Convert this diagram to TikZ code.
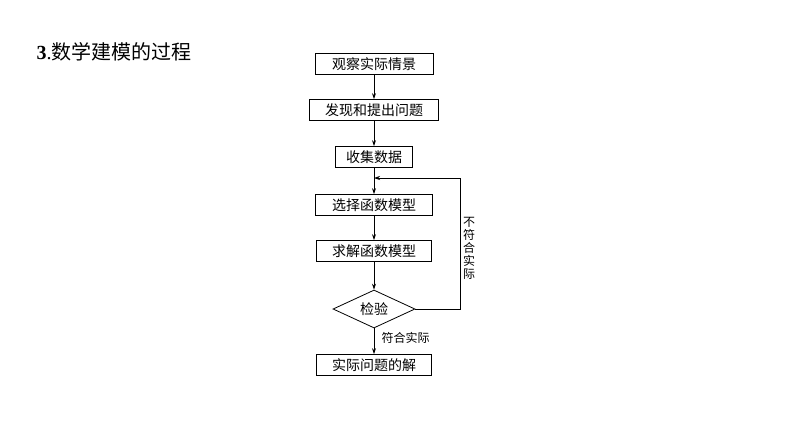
\documentclass[tikz,border=0pt]{standalone}
\usepackage{fontspec}
\setmainfont{Liberation Serif}
\newfontfamily\cjk{Noto Sans CJK SC}
\usetikzlibrary{shapes.geometric,arrows.meta}
\begin{document}
\begin{tikzpicture}[x=1pt,y=-1pt,
 box/.style={draw,line width=0.8pt,inner sep=0pt,minimum height=21pt,font=\cjk\fontsize{14}{14}\selectfont},
 arr/.style={-{Stealth[length=6pt,width=4pt]},line width=0.7pt},
 lab/.style={font=\cjk\fontsize{12}{13}\selectfont}]
\useasboundingbox (0,0) rectangle (794,447);
\node[anchor=west,font=\fontsize{20}{22}\selectfont] (t) at (33,52) {\textbf{3}.{\cjk 数学建模的过程}};
\node[box,minimum width=118pt] (a) at (374,64) {观察实际情景};
\node[box,minimum width=129pt] (b) at (374,110) {发现和提出问题};
\node[box,minimum width=77pt] (c) at (374,157) {收集数据};
\node[box,minimum width=117pt] (d) at (374,205) {选择函数模型};
\node[box,minimum width=115pt] (e) at (374,251) {求解函数模型};
\node[diamond,draw,line width=0.8pt,aspect=2.2,minimum width=82pt,minimum height=38pt,inner sep=0pt,font=\cjk\fontsize{14}{14}\selectfont] (f) at (374,309) {检验};
\node[box,minimum width=115pt] (g) at (374,365) {实际问题的解};
\coordinate (m) at (374,178);
\coordinate (r1) at (460,309);
\coordinate (r2) at (460,178);
\draw[arr] (a) -- (b);
\draw[arr] (b) -- (c);
\draw[line width=0.7pt] (c) -- (m);
\draw[arr] (m) -- (d);
\draw[arr] (d) -- (e);
\draw[arr] (e) -- (f);
\draw[arr] (f) -- (g);
\draw[arr] (f.east) -- (r1) -- (r2) -- (m);
\node[lab,align=center,inner sep=0pt] (n) at (469,248) {不\\符\\合\\实\\际};
\node[lab,anchor=west] (y) at (378,338) {符合实际};
\end{tikzpicture}
\end{document}
